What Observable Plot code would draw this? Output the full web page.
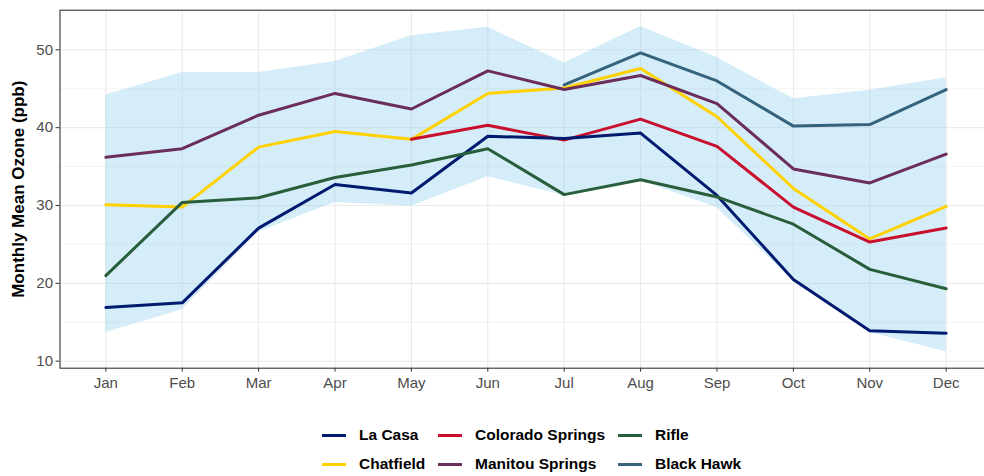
<!DOCTYPE html>
<html><head><meta charset="utf-8">
<script src="https://cdn.jsdelivr.net/npm/d3@7"></script>
<script src="https://cdn.jsdelivr.net/npm/@observablehq/plot@0.6"></script>
<style>
html,body{margin:0;padding:0;background:#fff;overflow:hidden;width:984px;height:476px;position:relative;}
#chart{position:absolute;left:0;top:0;}
#legend{position:absolute;left:0;top:0;width:984px;height:476px;font-family:"Liberation Sans",Arial,sans-serif;font-weight:bold;font-size:15.5px;color:#000;}
.item{position:absolute;display:flex;align-items:center;white-space:nowrap;height:20px;}
.key{width:24px;height:3px;margin-right:13px;}
</style></head><body>
<div id="chart"></div><div id="legend"></div>
<script>
const months = ["Jan","Feb","Mar","Apr","May","Jun","Jul","Aug","Sep","Oct","Nov","Dec"];
const yTicks = [10, 20, 30, 40, 50];
const yMinor = [15, 25, 35, 45];
const yTitle = "Monthly Mean Ozone (ppb)";

const sites = ["La Casa","Colorado Springs","Rifle","Chatfield","Manitou Springs","Black Hawk"];
const siteColors = ["#001A70","#C8102E","#285E3B","#FFD100","#6B2D5B","#35637E"];
const drawOrder = ["Black Hawk","Chatfield","Colorado Springs","La Casa","Manitou Springs","Rifle"];

const laCasa          = [16.9, 17.5, 27.1, 32.7, 31.6, 38.9, 38.6, 39.3, 31.3, 20.5, 13.9, 13.6];
const coloradoSprings = [null, null, null, null, 38.5, 40.3, 38.4, 41.1, 37.6, 29.8, 25.3, 27.1];
const rifle           = [21.0, 30.4, 31.0, 33.6, 35.2, 37.3, 31.4, 33.3, 31.1, 27.6, 21.8, 19.3];
const chatfield       = [30.1, 29.8, 37.5, 39.5, 38.5, 44.4, 45.1, 47.6, 41.4, 32.2, 25.7, 29.9];
const manitouSprings  = [36.2, 37.3, 41.6, 44.4, 42.4, 47.3, 44.9, 46.7, 43.1, 34.7, 32.9, 36.6];
const blackHawk       = [null, null, null, null, null, null, 45.5, 49.6, 46.0, 40.2, 40.4, 44.9];

const bandLow  = [13.7, 16.6, 26.6, 30.4, 29.9, 33.7, 31.3, 33.2, 29.7, 20.3, 13.7, 11.2];
const bandHigh = [44.2, 47.1, 47.1, 48.5, 51.8, 52.9, 48.3, 53.0, 49.0, 43.7, 44.8, 46.4];

const seriesBySite = {
  "La Casa": laCasa, "Colorado Springs": coloradoSprings, "Rifle": rifle,
  "Chatfield": chatfield, "Manitou Springs": manitouSprings, "Black Hawk": blackHawk
};

const long = [];
for (const s of drawOrder) {
  seriesBySite[s].forEach((v, i) => { if (v != null) long.push({site: s, i, v}); });
}
const band = months.map((m, i) => ({i, lo: bandLow[i], hi: bandHigh[i]}));
const idx = d3.range(months.length);

const chart = Plot.plot({
  width: 992,
  height: 400,
  marginLeft: 59.5,
  marginRight: 0.5,
  marginTop: 9.7,
  marginBottom: 32.3,
  style: {fontFamily: "'Liberation Sans', Arial, sans-serif", fontSize: "15px", background: "#fff", maxWidth: "none", overflow: "hidden"},
  x: {domain: [-0.6, 11.6], axis: null, label: null},
  y: {domain: [9.1, 55.09], axis: null, label: null},
  color: {domain: sites, range: siteColors},
  marks: [
    Plot.gridY(yMinor, {stroke: "#EBEBEB", strokeOpacity: 1, strokeWidth: 0.6}),
    Plot.gridY(yTicks, {stroke: "#EBEBEB", strokeOpacity: 1, strokeWidth: 1.1}),
    Plot.gridX(idx, {stroke: "#EBEBEB", strokeOpacity: 1, strokeWidth: 1.1}),
    Plot.areaY(band, {x: "i", y1: "lo", y2: "hi", fill: "#87CEEB", fillOpacity: 0.36}),
    Plot.line(long, {x: "i", y: "v", z: "site", stroke: "site", strokeWidth: 3, strokeLinejoin: "round"}),
    Plot.frame({stroke: "#333", strokeWidth: 1.1}),
    Plot.axisY(yTicks, {label: null, tickSize: 4, tickPadding: 3, stroke: "#333", fill: "#4D4D4D", fontSize: 15}),
    Plot.axisX(idx, {label: null, tickSize: 4, tickPadding: 5, stroke: "#333", fill: "#4D4D4D", fontSize: 15, tickFormat: i => months[i]}),
    Plot.text([yTitle], {frameAnchor: "left", text: d => d, rotate: -90, dx: -41, textAnchor: "middle", lineAnchor: "middle", fontWeight: "bold", fontSize: 17, fill: "#000"})
  ]
});
document.getElementById("chart").appendChild(chart);

// legend (2 rows x 3 columns, like the reference)
const legendLayout = [
  ["La Casa", 322, 435], ["Colorado Springs", 438, 435], ["Rifle", 618, 435],
  ["Chatfield", 322, 464], ["Manitou Springs", 438, 464], ["Black Hawk", 618, 464]
];
const leg = document.getElementById("legend");
for (const [name, lx, ly] of legendLayout) {
  const it = document.createElement("div");
  it.className = "item";
  it.style.left = lx + "px";
  it.style.top = (ly - 10) + "px";
  const k = document.createElement("div");
  k.className = "key";
  k.style.background = siteColors[sites.indexOf(name)];
  const t = document.createElement("span");
  t.textContent = name;
  it.appendChild(k); it.appendChild(t);
  leg.appendChild(it);
}
</script>
</body></html>
